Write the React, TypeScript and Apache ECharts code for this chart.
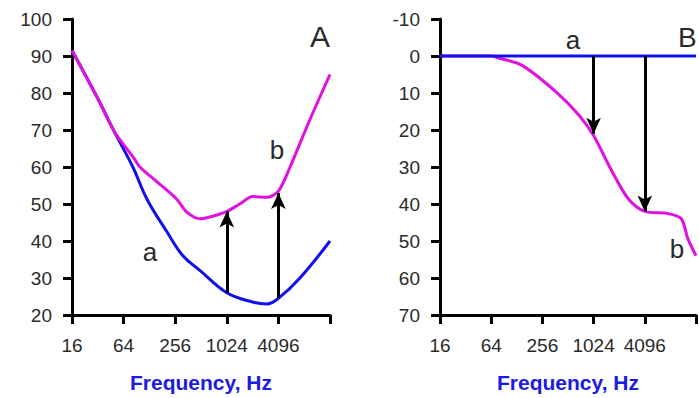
import React, { useEffect, useRef } from "react";
import * as echarts from "echarts";

// Panel A – curve a (blue)
const freqAa = [16, 32, 50, 82, 120, 205, 315, 500, 1024, 2048, 3000, 4096, 7300, 16384];
const valAa = [91.5, 78.5, 69.5, 60, 51.3, 42.5, 36, 32, 26, 23.5, 23, 24.5, 30, 40];
// Panel A – curve b (magenta)
const freqAb = [16, 32, 50, 82, 99, 157, 267, 350, 500, 700, 1024, 1450, 2048, 3000, 4096, 5600, 9500, 16384];
const valAb = [91.5, 78.5, 69.5, 62.8, 60, 56, 51.3, 47.8, 46, 46.7, 48, 50, 52, 51.8, 53.5, 60, 72.7, 85];
// Panel B – curve a (blue)
const freqBa = [16, 16384];
const valBa = [0, 0];
// Panel B – curve b (magenta)
const freqBb = [16, 64, 75, 149, 370, 690, 1024, 1670, 2600, 4096, 7700, 11000, 13100, 16384];
const valBb = [0, 0, 0.4, 2.6, 9.7, 16, 21.5, 31, 38.5, 42, 42.6, 44, 49.3, 54];
// Arrows: [freq, from, to]
const arrowsA = [[1024, 26, 48], [4096, 24.5, 53]];
const arrowsB = [[1024, 0, 21], [4096, 0, 42]];

const BLUE = "#1010ee";
const MAGENTA = "#e010e0";
const TXT = "#2a2a2a";
const FONT = "'Liberation Sans', Arial, sans-serif";

const pairs = (f: number[], v: number[]) => f.map((x, i) => [x, v[i]]);
const arrowData = (a: number[][]) =>
  a.map(([f, s, e]) => [{ coord: [f, s] }, { coord: [f, e] }]);

const axisLineStyle = { color: "#000", width: 3 };

const makeX = (gridIndex: number) => ({
  type: "log",
  logBase: 4,
  gridIndex,
  min: 16,
  max: 16384,
  splitNumber: 5,
  axisLine: { onZero: false, lineStyle: axisLineStyle },
  axisTick: { length: 9, lineStyle: { color: "#000", width: 3 } },
  splitLine: { show: false },
  axisLabel: {
    color: TXT,
    fontSize: 19,
    fontFamily: FONT,
    margin: 21,
    formatter: (v: number) => (v > 10000 ? "" : String(Math.round(v))),
  },
  name: "Frequency, Hz",
  nameLocation: "middle",
  nameGap: 57,
  nameTextStyle: { color: "#1c1ce0", fontSize: 21, fontWeight: "bold", fontFamily: FONT },
});

const makeY = (gridIndex: number, min: number, max: number, inverse: boolean) => ({
  type: "value",
  gridIndex,
  min,
  max,
  interval: 10,
  inverse,
  axisLine: { show: true, onZero: false, lineStyle: axisLineStyle },
  axisTick: { show: true, length: 9, lineStyle: { color: "#000", width: 3 } },
  splitLine: { show: false },
  axisLabel: { color: TXT, fontSize: 19, fontFamily: FONT, margin: 20 },
});

const markLineCfg = (a: number[][]) => ({
  silent: true,
  symbol: ["none", "arrow"],
  symbolSize: [11, 16],
  label: { show: false },
  lineStyle: { color: "#000", width: 3, type: "solid" },
  emphasis: { disabled: true },
  data: arrowData(a),
});

const txt = (text: string, x: number, y: number, size: number, align = "center") => ({
  type: "text",
  x,
  y,
  style: {
    text,
    fill: TXT,
    font: `${size}px ${FONT}`,
    textAlign: align,
    textVerticalAlign: "middle",
  },
});

const option: any = {
  animation: false,
  backgroundColor: "#fff",
  grid: [
    { left: 72, top: 19, width: 258, height: 298 },
    { left: 440, top: 19, width: 258, height: 298 },
  ],
  xAxis: [makeX(0), makeX(1)],
  yAxis: [makeY(0, 20, 100, false), makeY(1, -10, 70, true)],
  series: [
    {
      type: "line",
      xAxisIndex: 0,
      yAxisIndex: 0,
      data: pairs(freqAa, valAa),
      smooth: 0.4,
      showSymbol: false,
      lineStyle: { color: BLUE, width: 3 },
    },
    {
      type: "line",
      xAxisIndex: 0,
      yAxisIndex: 0,
      data: pairs(freqAb, valAb),
      smooth: 0.3,
      showSymbol: false,
      lineStyle: { color: MAGENTA, width: 3 },
      markLine: markLineCfg(arrowsA),
    },
    {
      type: "line",
      xAxisIndex: 1,
      yAxisIndex: 1,
      data: pairs(freqBb, valBb),
      smooth: 0.3,
      showSymbol: false,
      lineStyle: { color: MAGENTA, width: 3 },
    },
    {
      type: "line",
      xAxisIndex: 1,
      yAxisIndex: 1,
      data: pairs(freqBa, valBa),
      showSymbol: false,
      lineStyle: { color: BLUE, width: 3 },
      markLine: markLineCfg(arrowsB),
    },
  ],
  graphic: [
    txt("A", 320, 36, 30),
    txt("b", 277, 150, 26),
    txt("a", 150, 252, 26),
    txt("a", 573, 40, 26),
    txt("B", 678, 37, 28, "left"),
    txt("b", 677, 249, 26),
  ],
};

export default function App() {
  const ref = useRef<HTMLDivElement>(null);
  useEffect(() => {
    document.body.style.margin = "0";
    const chart = echarts.init(ref.current!, null, { renderer: "svg" });
    chart.setOption(option);
    return () => chart.dispose();
  }, []);
  return <div ref={ref} style={{ width: 699, height: 398 }} />;
}
